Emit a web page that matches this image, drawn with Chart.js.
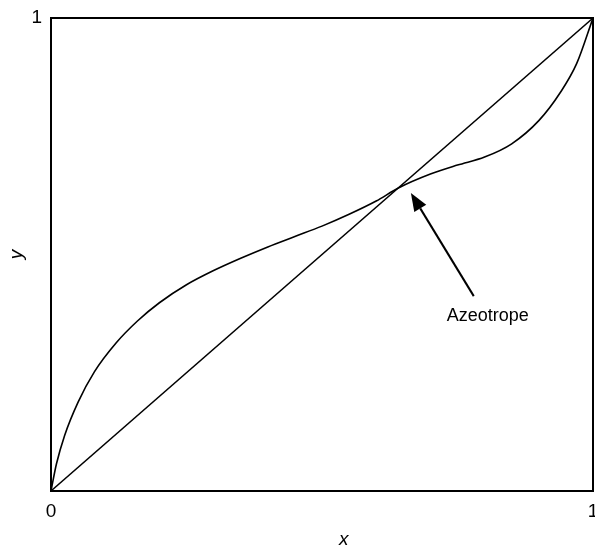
<!DOCTYPE html>
<html>
<head>
<meta charset="utf-8">
<script src="https://cdn.jsdelivr.net/npm/chart.js@4/dist/chart.umd.min.js"></script>
<style>
  html, body { margin: 0; padding: 0; background: #fff; }
  #wrap { width: 595px; height: 546px; }
</style>
</head>
<body>
<div id="wrap"><canvas id="xyChart" width="595" height="546"></canvas></div>
<script>
// vapour (y) vs liquid (x) mole fraction
const liquidX = [0, 0.010, 0.025, 0.050, 0.080, 0.120, 0.160, 0.200, 0.250, 0.300, 0.350, 0.400,
                 0.450, 0.500, 0.550, 0.600, 0.640, 0.700, 0.750, 0.800, 0.850, 0.900, 0.940,
                 0.970, 1];
const vapourY = [0, 0.057, 0.117, 0.188, 0.252, 0.313, 0.360, 0.398, 0.436, 0.466, 0.492, 0.516,
                 0.538, 0.560, 0.585, 0.613, 0.640, 0.670, 0.689, 0.706, 0.734, 0.783, 0.843,
                 0.904, 1];
// y = x line
const diagX = [0, 1];
const diagY = [0, 1];

const tickValues = [0, 1];
const azeoLabel = "Azeotrope";

const FONT = "'Liberation Sans', Arial, sans-serif";

const toPts = (xs, ys) => xs.map((x, i) => ({ x: x, y: ys[i] }));

// box around the plot, x axis title, arrow pointing at the azeotrope
const framePlugin = {
  id: "frame",
  afterDatasetsDraw(chart) {
    const { ctx, chartArea: a, scales } = chart;
    ctx.save();
    ctx.strokeStyle = "#000";
    ctx.lineWidth = 2;
    ctx.strokeRect(a.left, a.top, a.right - a.left, a.bottom - a.top);

    ctx.fillStyle = "#000";
    ctx.font = "italic 19px " + FONT;
    ctx.textAlign = "center";
    ctx.textBaseline = "alphabetic";
    ctx.fillText("x", a.left + 0.54 * (a.right - a.left), 545);

    const x0 = scales.x.getPixelForValue(0.780), y0 = scales.y.getPixelForValue(0.412);
    const x1 = scales.x.getPixelForValue(0.664), y1 = scales.y.getPixelForValue(0.630);
    const ang = Math.atan2(y1 - y0, x1 - x0);
    const headLen = 18, headW = 7;
    const bx = x1 - headLen * Math.cos(ang), by = y1 - headLen * Math.sin(ang);
    ctx.lineWidth = 2;
    ctx.beginPath();
    ctx.moveTo(x0, y0);
    ctx.lineTo(bx, by);
    ctx.stroke();
    ctx.beginPath();
    ctx.moveTo(x1, y1);
    ctx.lineTo(bx + headW * Math.sin(ang), by - headW * Math.cos(ang));
    ctx.lineTo(bx - headW * Math.sin(ang), by + headW * Math.cos(ang));
    ctx.closePath();
    ctx.fill();

    ctx.font = "18px " + FONT;
    ctx.textBaseline = "middle";
    ctx.fillText(azeoLabel, scales.x.getPixelForValue(0.806), scales.y.getPixelForValue(0.370));
    ctx.restore();
  }
};

new Chart("xyChart", {
  type: "scatter",
  data: {
    datasets: [{
      data: toPts(liquidX, vapourY),
      showLine: true,
      cubicInterpolationMode: "monotone",
      borderColor: "#000",
      borderWidth: 1.6,
      pointRadius: 0
    }, {
      data: toPts(diagX, diagY),
      showLine: true,
      borderColor: "#000",
      borderWidth: 1.4,
      pointRadius: 0
    }]
  },
  options: {
    responsive: false,
    animation: false,
    events: [],
    layout: { padding: { top: 18, right: 2, left: 0, bottom: 0 } },
    plugins: { legend: { display: false }, tooltip: { enabled: false } },
    scales: {
      x: {
        type: "linear", min: 0, max: 1,
        grid: { display: false, drawTicks: false },
        border: { display: false },
        afterBuildTicks(s) { s.ticks = tickValues.map(v => ({ value: v })); },
        ticks: { color: "#000", padding: 9, maxRotation: 0, font: { family: FONT, size: 19 } },
        afterFit(s) { s.height = 55; s.paddingLeft = 0; s.paddingRight = 0; }
      },
      y: {
        type: "linear", min: 0, max: 1,
        grid: { display: false, drawTicks: false },
        border: { display: false },
        afterBuildTicks(s) { s.ticks = tickValues.map(v => ({ value: v })); },
        ticks: { color: "#000", padding: 9, font: { family: FONT, size: 19 },
                 callback: v => (v === 1 ? "1" : "") },
        title: { display: true, text: "y", color: "#000", padding: { top: 5 },
                 font: { family: FONT, size: 19, style: "italic", lineHeight: 1.2 } },
        afterFit(s) { s.width = 51; s.paddingTop = 0; s.paddingBottom = 0; }
      }
    }
  },
  plugins: [framePlugin]
});
</script>
</body>
</html>
